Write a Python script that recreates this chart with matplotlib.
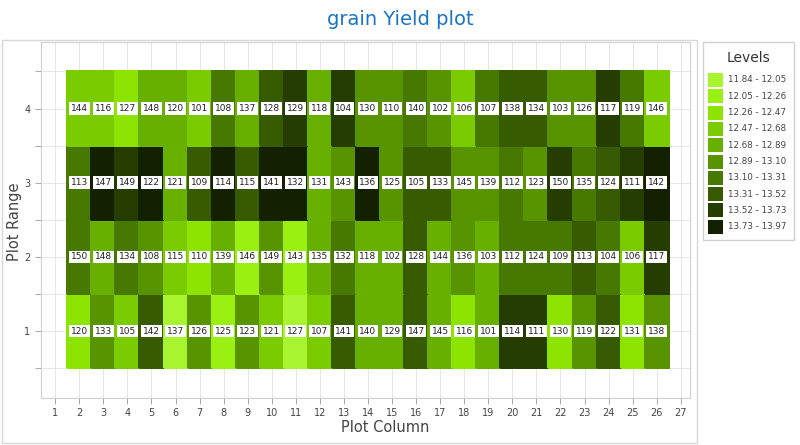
import matplotlib.pyplot as plt
from matplotlib.colors import ListedColormap, BoundaryNorm
from matplotlib.patches import Rectangle
import numpy as np

# level bounds and colours from the legend
bounds = [11.84, 12.05, 12.26, 12.47, 12.68, 12.89, 13.10, 13.31, 13.52, 13.73, 13.97]
level_colors = ['#a8f42e', '#9af010', '#8ce400', '#7acc00', '#68b000',
                '#579400', '#477800', '#365b00', '#253e00', '#142100']

columns = list(range(2, 27))
ranges = [1, 2, 3, 4]

# plot numbers per range (row), columns 2..26
plots_r1 = [120, 133, 105, 142, 137, 126, 125, 123, 121, 127, 107, 141, 140, 129, 147, 145, 116, 101, 114, 111, 130, 119, 122, 131, 138]
plots_r2 = [150, 148, 134, 108, 115, 110, 139, 146, 149, 143, 135, 132, 118, 102, 128, 144, 136, 103, 112, 124, 109, 113, 104, 106, 117]
plots_r3 = [113, 147, 149, 122, 121, 109, 114, 115, 141, 132, 131, 143, 136, 125, 105, 133, 145, 139, 112, 123, 150, 135, 124, 111, 142]
plots_r4 = [144, 116, 127, 148, 120, 101, 108, 137, 128, 129, 118, 104, 130, 110, 140, 102, 106, 107, 138, 134, 103, 126, 117, 119, 146]

# estimated yields (mid of level)
yield_r1 = [12.37, 13.00, 12.58, 13.42, 11.95, 13.00, 12.16, 13.00, 12.58, 11.95, 12.58, 13.42, 12.79,
            12.79, 13.42, 12.79, 12.37, 12.79, 13.63, 13.63, 12.37, 13.00, 13.42, 12.37, 13.00]
yield_r2 = [13.21, 12.79, 13.21, 13.00, 12.58, 12.37, 12.79, 12.16, 13.00, 12.16, 12.79, 13.21, 12.79,
            12.79, 13.42, 12.79, 13.00, 12.79, 13.21, 13.21, 13.21, 13.42, 13.21, 12.58, 13.63]
yield_r3 = [13.21, 13.85, 13.63, 13.85, 12.79, 13.42, 13.85, 13.42, 13.85, 13.85, 12.79, 13.00, 13.85,
            13.00, 13.42, 13.42, 13.00, 13.00, 13.21, 13.00, 13.63, 13.21, 13.42, 13.63, 13.85]
yield_r4 = [12.58, 12.58, 12.37, 12.79, 12.79, 12.58, 13.21, 12.79, 13.42, 13.63, 12.79, 13.63, 13.00,
            13.00, 13.21, 13.00, 12.58, 13.21, 13.42, 13.42, 13.00, 13.00, 13.63, 13.21, 12.58]

yields = np.array([yield_r1, yield_r2, yield_r3, yield_r4])
plots = [plots_r1, plots_r2, plots_r3, plots_r4]

cmap = ListedColormap(level_colors)
norm = BoundaryNorm(bounds, cmap.N)

fig = plt.figure(figsize=(8, 4.45), dpi=100)
ax = fig.add_axes([0.051, 0.106, 0.812, 0.8])

xe = np.arange(1.5, 27.5, 1)
ye = np.arange(0.5, 5.5, 1)
ax.pcolormesh(xe, ye, yields, cmap=cmap, norm=norm, edgecolor='face', linewidth=0.3, zorder=2)

for i, r in enumerate(ranges):
    for j, c in enumerate(columns):
        ax.text(c, r, str(plots[i][j]), ha='center', va='center', fontsize=6.5, color='#222222', zorder=4,
                bbox=dict(boxstyle='square,pad=0.2', fc='white', ec='none'))

ax.set_xlim(0.4, 27.4)
ax.set_ylim(0.1, 4.9)
ax.set_xticks(range(1, 28))
ax.set_yticks(np.arange(0.5, 5.0, 0.5))
ax.set_yticklabels(['' if v % 1 else str(int(v)) for v in np.arange(0.5, 5.0, 0.5)])
ax.tick_params(axis='both', labelsize=7, colors='#999999', labelcolor='#444444', length=4, width=0.6)
ax.tick_params(axis='x', pad=3)
ax.grid(True, color='#e6e6e6', linewidth=0.7, zorder=0)
ax.set_axisbelow(True)
for s in ax.spines.values():
    s.set_color('#d0d0d0')
    s.set_linewidth(0.8)

fig.text(385 / 800, 1 - 428 / 445, 'Plot Column', ha='center', va='center', fontsize=10.5, color='#444444')
fig.text(14 / 800, 1 - 222 / 445, 'Plot Range', ha='center', va='center', rotation=90,
         fontsize=10.5, color='#444444')
fig.text(0.5, 0.957, 'grain Yield plot', ha='center', va='center', fontsize=14, color='#1a74c6')

# outer chart border
fig.patches.append(Rectangle((2 / 800, 2 / 445), 695 / 800, 403 / 445, transform=fig.transFigure,
                             fill=False, ec='#d8d8d8', lw=1))

# legend box
fig.patches.append(Rectangle((703 / 800, 205 / 445), 91 / 800, 198 / 445, transform=fig.transFigure,
                             fill=False, ec='#d0d0d0', lw=1))
fig.text(748 / 800, 1 - 58 / 445, 'Levels', ha='center', va='center', fontsize=10, color='#333333')
for k in range(len(level_colors)):
    yc = 80 + k * 16.3
    fig.patches.append(Rectangle((708 / 800, 1 - (yc + 7) / 445), 15 / 800, 14 / 445,
                                 transform=fig.transFigure, fc=level_colors[k], ec='none'))
    fig.text(728 / 800, 1 - yc / 445, f'{bounds[k]:.2f} - {bounds[k + 1]:.2f}', ha='left', va='center',
             fontsize=6.3, color='#444444')

fig.savefig('out.png', dpi=100)
